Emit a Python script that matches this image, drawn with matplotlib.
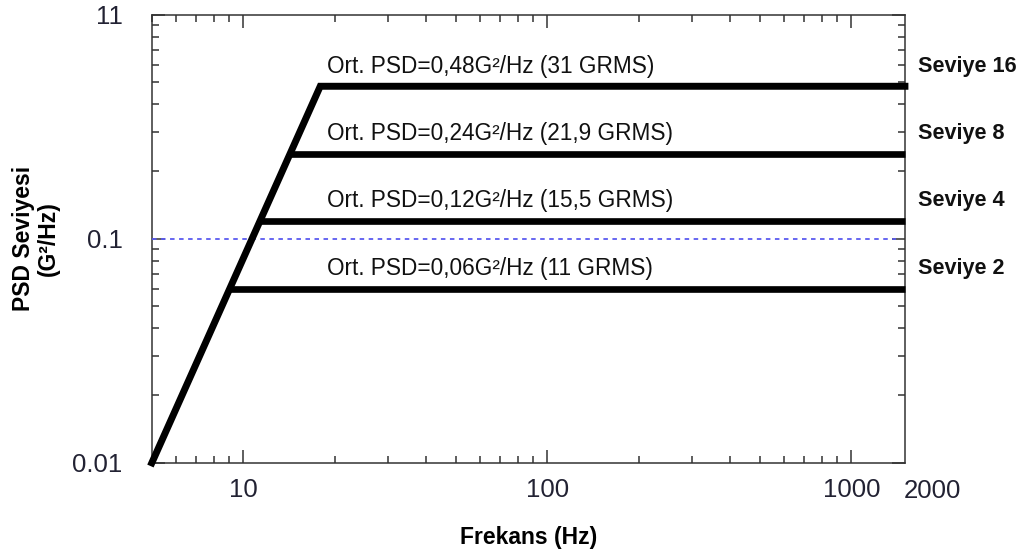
import matplotlib
matplotlib.use("Agg")
import matplotlib.pyplot as plt
import matplotlib.transforms as mtransforms
from matplotlib.ticker import FixedLocator, FixedFormatter, NullFormatter, LogLocator

plt.rcParams['font.family'] = ['Liberation Sans', 'DejaVu Sans']

# Seviyeler ve PSD degerleri
seviyeler = [2, 4, 8, 16]
psd = [0.06, 0.12, 0.24, 0.48]
grms = ['11', '15,5', '21,9', '31']
kose_frekans = [9.0, 11.4, 14.3, 17.9]

f_baslangic = 5
psd_baslangic = 0.01
f_son = 1500
referans_psd = 0.1

x_ticks = [10, 100, 1000]
x_tick_etiket = ['10', '100', '1000']
y_ticks = [0.01, 0.1, 1]
y_tick_etiket = ['0.01', '0.1', '11']

fig = plt.figure(figsize=(10.26, 5.51), dpi=100)
ax = fig.add_axes([0.148, 0.160, 0.734, 0.813])

# Egim (rampa) + en ust seviye
ax.plot([f_baslangic, kose_frekans[-1], f_son], [psd_baslangic, psd[-1], psd[-1]],
        color='black', lw=5, solid_joinstyle='miter', clip_on=False, zorder=4)
for i in range(len(seviyeler) - 1):
    ax.plot([kose_frekans[i], f_son], [psd[i], psd[i]], color='black', lw=4.8,
            solid_capstyle='butt', clip_on=False, zorder=4)

# 0.1 referans cizgisi
ax.plot([f_baslangic, 1400], [referans_psd, referans_psd], color='#5a5af0', lw=1.3,
        linestyle=(0, (2.5, 2.5)), zorder=3)

ax.set_xscale('log')
ax.set_yscale('log')
ax.set_xlim(f_baslangic, f_son)
ax.set_ylim(0.01, 1)

ax.xaxis.set_major_locator(FixedLocator(x_ticks))
ax.xaxis.set_major_formatter(FixedFormatter(x_tick_etiket))
ax.xaxis.set_minor_locator(LogLocator(base=10, subs=range(2, 10)))
ax.xaxis.set_minor_formatter(NullFormatter())
ax.yaxis.set_major_locator(FixedLocator(y_ticks))
ax.yaxis.set_major_formatter(FixedFormatter(y_tick_etiket))
ax.yaxis.set_minor_locator(LogLocator(base=10, subs=range(2, 10)))
ax.yaxis.set_minor_formatter(NullFormatter())

ax.tick_params(which='both', direction='in', top=True, right=True, color='#333333',
               width=1.1, labelcolor='#222233', labelsize=18.5)
ax.tick_params(which='major', length=9.5)
ax.tick_params(which='minor', length=5)
ax.tick_params(axis='x', pad=11)
ax.tick_params(axis='y', pad=21)
for s in ax.spines.values():
    s.set_color('#333333')
    s.set_linewidth(1.1)

# 2000 etiketi (eksen disi)
ax.text(1.036, -0.036, '2000', transform=ax.transAxes, ha='center', va='top',
        fontsize=18.5, color='#222233')

# Seviye etiketleri
trans = mtransforms.blended_transform_factory(ax.transAxes, ax.transData)
for i in range(len(seviyeler)):
    ax.annotate('Ort. PSD=' + str(psd[i]).replace('.', ',') + 'G\u00b2/Hz (' + grms[i] + ' GRMS)',
                xy=(0.232, psd[i]), xycoords=trans, xytext=(0, 14.5), textcoords='offset points',
                ha='left', va='center', fontsize=16.3, color='#111111')
    ax.annotate('Seviye ' + str(seviyeler[i]), xy=(1.017, psd[i]), xycoords=trans,
                xytext=(0, 14.5), textcoords='offset points', ha='left', va='center',
                fontsize=15.6, fontweight='bold', color='#111111', annotation_clip=False)

ax.set_xlabel('Frekans (Hz)', fontsize=16.5, fontweight='bold', labelpad=17)
ax.set_ylabel('PSD Seviyesi\n(G\u00b2/Hz)', fontsize=16.5, fontweight='bold', labelpad=9,
              linespacing=1.1)

fig.savefig('out.png', dpi=100)
